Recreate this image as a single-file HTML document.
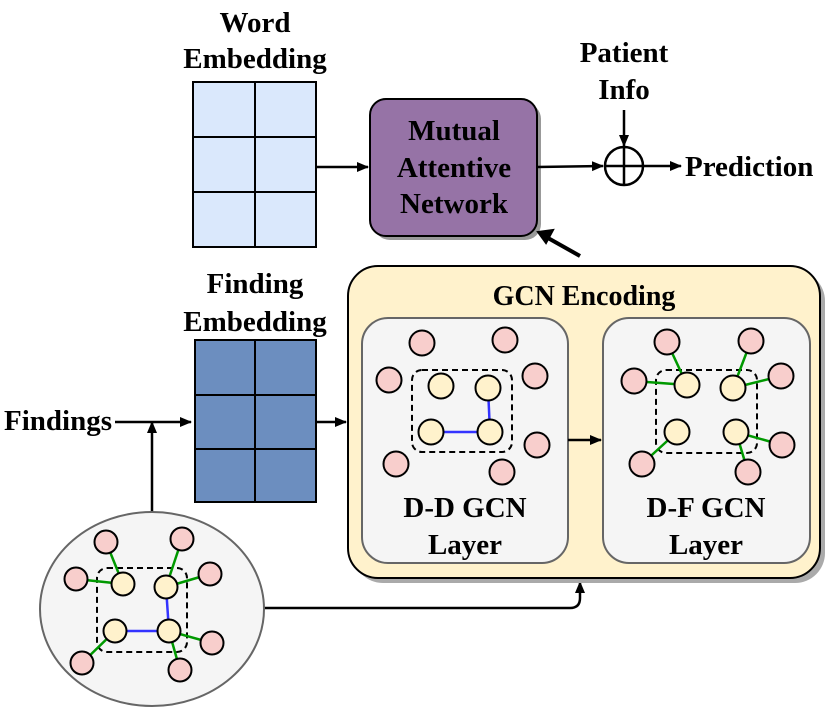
<!DOCTYPE html><html><head><style>body{margin:0;background:#fff}svg text{font-family:"Liberation Serif",serif;font-weight:bold}</style></head><body>
<svg width="830" height="714" viewBox="0 0 830 714" xmlns="http://www.w3.org/2000/svg">
<defs><marker id="a" markerWidth="12" markerHeight="12" refX="11" refY="6" orient="auto" markerUnits="userSpaceOnUse"><path d="M0,1L12,6L0,11z" fill="#000"/></marker></defs>
<g font-size="29" text-anchor="middle">
<text x="255" y="32">Word</text><text x="255" y="68">Embedding</text>
<text x="255" y="293">Finding</text><text x="255" y="331">Embedding</text>
<text x="624" y="62">Patient</text><text x="624" y="99">Info</text>
<text x="685" y="176" text-anchor="start">Prediction</text>
<text x="4" y="430" text-anchor="start">Findings</text>
</g>
<g stroke="#000" stroke-width="2" fill="#dae8fc"><rect x="193" y="82" width="123" height="165"/><path d="M255,82V247M193,137H316M193,192H316"/></g>
<g stroke="#000" stroke-width="2" fill="#6c8ebf"><rect x="195" y="340" width="121" height="162"/><path d="M255,340V502M195,395H316M195,449H316"/></g>
<rect x="374" y="103" width="167" height="137" rx="16" fill="#999"/>
<rect x="370" y="99" width="167" height="137" rx="16" fill="#9673a6" stroke="#000" stroke-width="2"/>
<g font-size="29" text-anchor="middle"><text x="454" y="140">Mutual</text><text x="454" y="177">Attentive</text><text x="454" y="213">Network</text></g>
<g stroke="#000" stroke-width="2.5" fill="none">
<path d="M316,167H368" marker-end="url(#a)"/>
<path d="M537,167L603,166" marker-end="url(#a)"/>
<path d="M643,166H681" marker-end="url(#a)"/>
<path d="M624,110V146" marker-end="url(#a)"/>
<circle cx="624" cy="166" r="19" fill="#fff"/><path d="M605,166H643M624,147V185"/>
<path d="M115,422H191" marker-end="url(#a)"/>
<path d="M152,512V422" marker-end="url(#a)"/>
<path d="M316,422H346" marker-end="url(#a)"/>
<path d="M264,608H570Q580,608 580,598V582" marker-end="url(#a)"/>
</g>
<path d="M580,256L548,238" stroke="#000" stroke-width="4"/><path d="M538,232L553,230L546,243z" fill="#000" stroke="#000" stroke-width="2"/>
<rect x="353" y="271" width="472" height="312" rx="30" fill="#aaa"/>
<rect x="348" y="266" width="472" height="312" rx="30" fill="#fff2cc" stroke="#000" stroke-width="2"/>
<text x="584" y="305" font-size="28" text-anchor="middle">GCN Encoding</text>
<rect x="362" y="318" width="206" height="245" rx="26" fill="#f5f5f5" stroke="#666" stroke-width="2"/>
<rect x="603" y="318" width="207" height="245" rx="26" fill="#f5f5f5" stroke="#666" stroke-width="2"/>
<path d="M568,440H601" stroke="#000" stroke-width="2.5" marker-end="url(#a)"/>
<g font-size="29" text-anchor="middle"><text x="465" y="517">D-D GCN</text><text x="465" y="554">Layer</text><text x="706" y="517">D-F GCN</text><text x="706" y="554">Layer</text></g>
<ellipse cx="152" cy="609" rx="112" ry="97" fill="#f5f5f5" stroke="#666" stroke-width="2"/>
<g stroke="#000" stroke-width="2" fill="none" stroke-dasharray="6,4">
<rect x="412" y="370" width="100" height="82" rx="10"/><rect x="656" y="370" width="101" height="83" rx="10"/><rect x="97" y="568" width="90" height="84" rx="10"/></g>
<g stroke-width="2.5" fill="none">
<g stroke="#33f"><path d="M488,388L490,432L431,432"/><path d="M166,587L169,631L115,631"/></g>
<g stroke="#090"><path d="M667,342L687,385M634,381L687,385M751,341L733,388M781,376L733,388M642,464L677,432M782,445L736,432M736,432L748,472"/>
<path d="M106,542L123,584M76,579L123,584M182,539L166,587M210,574L166,587M82,663L115,631M212,643L169,631M169,631L180,670"/></g></g>
<g stroke="#000" stroke-width="2" fill="#f8cecc">
<circle cx="422" cy="343" r="12.5"/><circle cx="505" cy="340" r="12.5"/><circle cx="389" cy="380" r="12.5"/><circle cx="535" cy="376" r="12.5"/><circle cx="396" cy="464" r="12.5"/><circle cx="502" cy="472" r="12.5"/><circle cx="537" cy="445" r="12.5"/>
<circle cx="667" cy="342" r="12.5"/><circle cx="751" cy="341" r="12.5"/><circle cx="634" cy="381" r="12.5"/><circle cx="781" cy="376" r="12.5"/><circle cx="642" cy="464" r="12.5"/><circle cx="782" cy="445" r="12.5"/><circle cx="748" cy="472" r="12.5"/>
<circle cx="106" cy="542" r="11.5"/><circle cx="182" cy="539" r="11.5"/><circle cx="76" cy="579" r="11.5"/><circle cx="210" cy="574" r="11.5"/><circle cx="212" cy="643" r="11.5"/><circle cx="82" cy="663" r="11.5"/><circle cx="180" cy="670" r="11.5"/>
</g>
<g stroke="#000" stroke-width="2" fill="#fff2cc">
<circle cx="441" cy="386" r="12.5"/><circle cx="488" cy="388" r="12.5"/><circle cx="431" cy="432" r="12.5"/><circle cx="490" cy="432" r="12.5"/>
<circle cx="687" cy="385" r="12.5"/><circle cx="733" cy="388" r="12.5"/><circle cx="677" cy="432" r="12.5"/><circle cx="736" cy="432" r="12.5"/>
<circle cx="123" cy="584" r="11.5"/><circle cx="166" cy="587" r="11.5"/><circle cx="115" cy="631" r="11.5"/><circle cx="169" cy="631" r="11.5"/>
</g>
</svg></body></html>
